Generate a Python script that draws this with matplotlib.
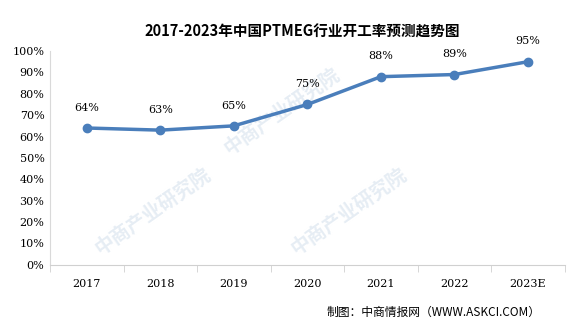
import matplotlib.pyplot as plt

plt.rcParams['font.family'] = ['Noto Sans CJK SC', 'DejaVu Sans']

years = ["2017", "2018", "2019", "2020", "2021", "2022", "2023E"]
rates = [64, 63, 65, 75, 88, 89, 95]
yticks = [0, 10, 20, 30, 40, 50, 60, 70, 80, 90, 100]

fig = plt.figure(figsize=(5.81, 3.27), dpi=100)
ax = fig.add_axes([0.086, 0.19, 0.886, 0.654])

# faint watermarks, kept under the plot
for (wx, wy) in [(0.2, 0.25), (0.58, 0.25), (0.45, 0.72)]:
    ax.text(wx, wy, "中商产业研究院", rotation=35, fontsize=14, color='#e6edf4',
            ha='center', va='center', zorder=0, fontweight='bold', transform=ax.transAxes)

x = list(range(len(years)))
ax.plot(x, rates, color='#4a7ebb', linewidth=2.5, marker='o', markersize=6, zorder=3)
for xi, v in zip(x, rates):
    ax.annotate(f"{v}%", (xi, v), xytext=(0, 11), textcoords='offset points',
                ha='center', va='bottom', fontsize=8, family='DejaVu Serif')

ax.set_xlim(-0.5, len(years) - 0.5)
ax.set_ylim(0, 100)
ax.set_yticks(yticks)
ax.set_yticklabels([f"{t}%" for t in yticks], family='DejaVu Serif', fontsize=8)
ax.set_xticks(x)
ax.set_xticklabels(years, family='DejaVu Serif', fontsize=8)
ax.set_xticks([i - 0.5 for i in range(len(years) + 1)], minor=True)
ax.tick_params(axis='x', which='major', length=0, pad=10)
ax.tick_params(axis='x', which='minor', length=5, color='#d0d0d0', direction='out')
ax.tick_params(axis='y', length=0, pad=4)

for s in ['top', 'right']:
    ax.spines[s].set_visible(False)
ax.spines['left'].set_color('#d9d9d9')
ax.spines['bottom'].set_color('#d0d0d0')

fig.text(0.52, 0.905, "2017-2023年中国PTMEG行业开工率预测趋势图", ha='center', va='center',
         fontsize=10.5, fontweight='bold')
fig.text(0.93, 0.045, "制图：中商情报网（WWW.ASKCI.COM）", ha='right', va='center', fontsize=8.5)

fig.savefig("out.png", dpi=100)
